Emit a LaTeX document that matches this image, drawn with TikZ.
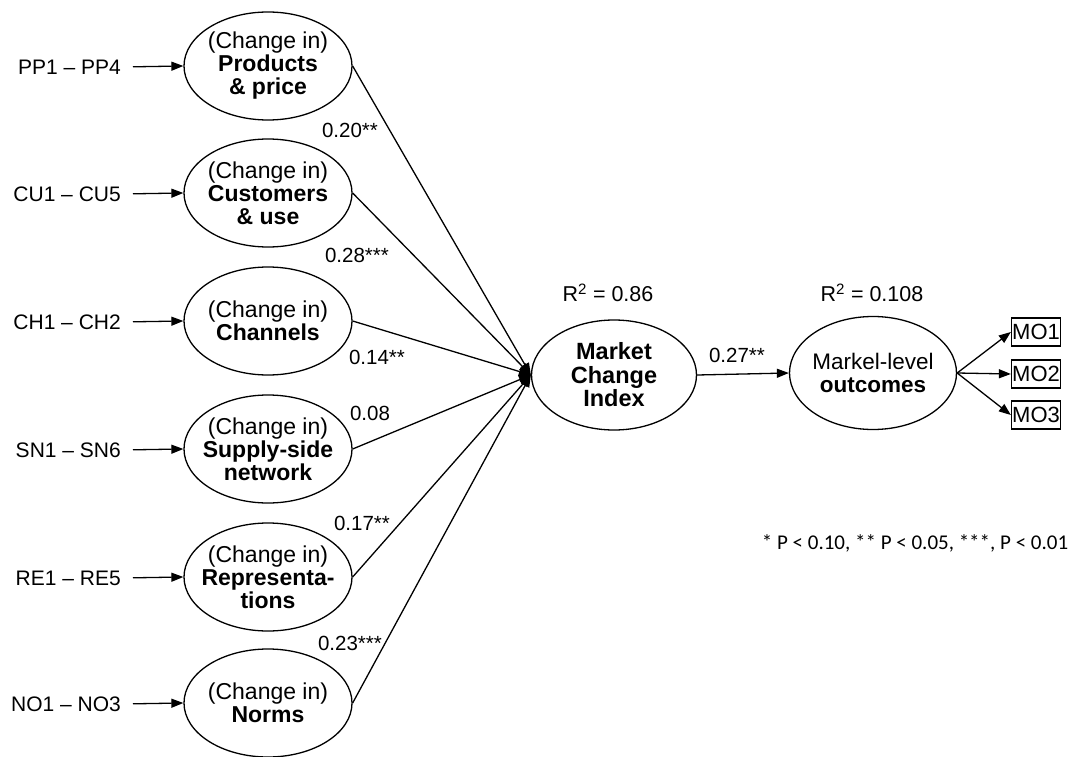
\documentclass[tikz,border=0pt]{standalone}
\usepackage{fontspec}
\setmainfont{Liberation Sans}
\newfontfamily\calfont{Carlito}
\usetikzlibrary{arrows.meta,shapes.geometric}
\begin{document}
\begin{tikzpicture}[x=1pt,y=-1pt,
  lat/.style={draw, ellipse, line width=1.3pt, minimum width=168pt, minimum height=108pt, inner sep=0pt},
  lattext/.style={align=center, inner sep=0pt, font=\fontsize{23}{23}\selectfont},
  ind/.style={font=\fontsize{21}{21}\selectfont, anchor=east, inner sep=0pt},
  coef/.style={font=\fontsize{20.5}{20.5}\selectfont, inner sep=0pt},
  arr/.style={line width=1.3pt, -{Triangle[length=12pt,width=9pt]}},
  mobox/.style={draw, rectangle, line width=1.3pt, minimum width=49pt, minimum height=28pt, inner sep=0pt, font=\fontsize{22}{22}\selectfont}
]
\useasboundingbox (0,0) rectangle (1073,757);

% latent constructs (left)
\node[lat, label={[lattext]center:(Change in)\\\textbf{Products}\\\textbf{\& price}}] (pp) at (268,66) {};
\node[lat, label={[lattext]center:(Change in)\\\textbf{Customers}\\\textbf{\& use}}] (cu) at (268,193) {};
\node[lat, label={[lattext]center:(Change in)\\\textbf{Channels}}] (ch) at (268,321) {};
\node[lat, label={[lattext]center:(Change in)\\\textbf{Supply-side}\\\textbf{network}}] (sn) at (268,449) {};
\node[lat, label={[lattext]center:(Change in)\\\textbf{Representa-}\\\textbf{tions}}] (re) at (268,577) {};
\node[lat, label={[lattext]center:(Change in)\\\textbf{Norms}}] (no) at (268,703) {};

% indicators (left)
\node[ind] (ippl) at (121,67)  {PP1 -- PP4};
\node[ind] (icul) at (121,194) {CU1 -- CU5};
\node[ind] (ichl) at (121,322) {CH1 -- CH2};
\node[ind] (isnl) at (121,450) {SN1 -- SN6};
\node[ind] (irel) at (121,578) {RE1 -- RE5};
\node[ind] (inol) at (121,704) {NO1 -- NO3};

\foreach \a/\b in {ippl/pp, icul/cu, ichl/ch, isnl/sn, irel/re, inol/no}
  \draw[arr, shorten <=12pt] (\a.east) -- (\b.west);

% central constructs
\node[lat, minimum width=165pt, minimum height=110pt, label={[lattext, font=\bfseries\fontsize{23.5}{23.5}\selectfont]center:Market\\Change\\Index}] (mci) at (614,375) {};
\node[lat, minimum width=167pt, minimum height=113pt, label={[lattext, font=\fontsize{22.5}{23.5}\selectfont]center:Markel-level\\\textbf{outcomes}}] (mlo) at (873,373) {};

% paths to MCI
\foreach \s in {pp, cu, ch, sn, re, no}
  \draw[arr] (\s.east) -- (mci.west);

\draw[arr] (mci.east) -- (mlo.west);

% outcome indicators
\node[mobox] (mo1) at (1036,332) {MO1};
\node[mobox] (mo2) at (1036,374) {MO2};
\node[mobox] (mo3) at (1036,415) {MO3};
\foreach \m in {mo1, mo2, mo3}
  \draw[arr] (mlo.east) -- (\m.west);

% coefficients
\node[coef] (c1) at (350,130) {0.20**};
\node[coef] (c2) at (357,255) {0.28***};
\node[coef] (c3) at (377,357) {0.14**};
\node[coef] (c4) at (370,413) {0.08};
\node[coef] (c5) at (362,523) {0.17**};
\node[coef] (c6) at (350,643) {0.23***};
\node[coef] (c7) at (737,355) {0.27**};

\node[coef, font=\fontsize{21.5}{21.5}\selectfont] (r1) at (608,293) {R\textsuperscript{2} = 0.86};
\node[coef, font=\fontsize{21.5}{21.5}\selectfont] (r2) at (872,293) {R\textsuperscript{2} = 0.108};

\node[inner sep=0pt, font=\calfont\fontsize{21}{21}\selectfont] (fn) at (915,543) {* P < 0.10, ** P < 0.05, ***, P < 0.01};
\end{tikzpicture}
\end{document}
